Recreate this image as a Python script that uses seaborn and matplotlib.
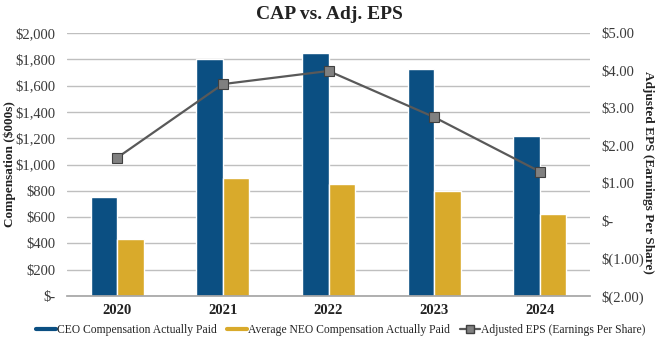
import numpy as np
import pandas as pd
import matplotlib
matplotlib.use("Agg")
import matplotlib.pyplot as plt
from matplotlib.lines import Line2D
from matplotlib.ticker import FuncFormatter, MultipleLocator
import seaborn as sns

years = ["2020", "2021", "2022", "2023", "2024"]
ceo_cap = [755, 1800, 1850, 1730, 1215]
neo_cap = [430, 900, 855, 800, 625]
adj_eps = [1.68, 3.64, 3.99, 2.76, 1.31]

series_names = ["CEO Compensation Actually Paid", "Average NEO Compensation Actually Paid"]
eps_name = "Adjusted EPS (Earnings Per Share)"
colors = ["#0B4F82", "#D9AA2B"]

df = pd.DataFrame({
    "Year": years * 2,
    "Value": ceo_cap + neo_cap,
    "Series": [series_names[0]] * len(years) + [series_names[1]] * len(years),
})

sns.set_theme(style="white")
plt.rcParams["font.family"] = ["Liberation Serif", "DejaVu Serif"]

fig = plt.figure(figsize=(6.58, 3.38), dpi=100)
ax = fig.add_axes([0.1018, 0.1243, 0.795, 0.778])

sns.barplot(data=df, x="Year", y="Value", hue="Series", palette=colors,
            width=0.5, gap=0, ax=ax, legend=False, saturation=1)

ax.set_ylim(0, 2000)
ax.yaxis.set_major_locator(MultipleLocator(200))
ax.yaxis.set_major_formatter(FuncFormatter(lambda v, p: "$-" if v == 0 else f"${v:,.0f}"))
ax.grid(axis="y", color="#BFBFBF", linewidth=1)
ax.set_axisbelow(True)
for s in ["left", "right", "top"]:
    ax.spines[s].set_visible(False)
ax.spines["bottom"].set_color("#A6A6A6")
ax.set_xlabel("")
ax.set_ylabel("Compensation ($000s)", fontsize=9.5, fontweight="bold", color="#222222")
ax.yaxis.set_label_coords(-0.097, 0.5)
ax.tick_params(axis="y", labelsize=10.5, colors="#3A3A3A", length=0, pad=8)
ax.tick_params(axis="x", labelsize=10.5, length=0, pad=6)
for lbl in ax.get_xticklabels():
    lbl.set_fontweight("bold")
    lbl.set_color("#222222")

ax2 = ax.twinx()
x_pos = np.arange(len(years))
sns.lineplot(x=x_pos, y=adj_eps, ax=ax2, color="#595959", linewidth=1.6,
             marker="s", markersize=7, markerfacecolor="#808080",
             markeredgecolor="#404040", markeredgewidth=0.8, legend=False)
ax2.set_ylim(-2, 5)
ax2.yaxis.set_major_locator(MultipleLocator(1))
def eps_fmt(v, p):
    if abs(v) < 1e-9:
        return "$-"
    if v < 0:
        return f"$({abs(v):.2f})"
    return f"${v:.2f}"
ax2.yaxis.set_major_formatter(FuncFormatter(eps_fmt))
for s in ["left", "right", "top", "bottom"]:
    ax2.spines[s].set_visible(False)
ax2.tick_params(axis="y", labelsize=10.5, colors="#3A3A3A", length=0, pad=8)
ax2.set_ylabel(eps_name, fontsize=9.5, fontweight="bold", color="#222222", rotation=270)
ax2.yaxis.set_label_coords(1.122, 0.47)
ax2.grid(False)

fig.suptitle("CAP vs. Adj. EPS", fontsize=14, fontweight="bold", color="#222222", y=0.982)

handles = [
    Line2D([0], [0], color=colors[0], linewidth=3),
    Line2D([0], [0], color=colors[1], linewidth=3),
    Line2D([0], [0], color="#595959", linewidth=1.6, marker="s", markersize=6,
           markerfacecolor="#808080", markeredgecolor="#404040"),
]
fig.legend(handles, series_names + [eps_name], loc="center", ncol=3,
           frameon=False, fontsize=8.4, bbox_to_anchor=(0.518, 1 - 330 / 338),
           handlelength=1.7, handletextpad=0.1, columnspacing=0.85,
           borderpad=0, borderaxespad=0)

fig.savefig("out.png", dpi=100)
